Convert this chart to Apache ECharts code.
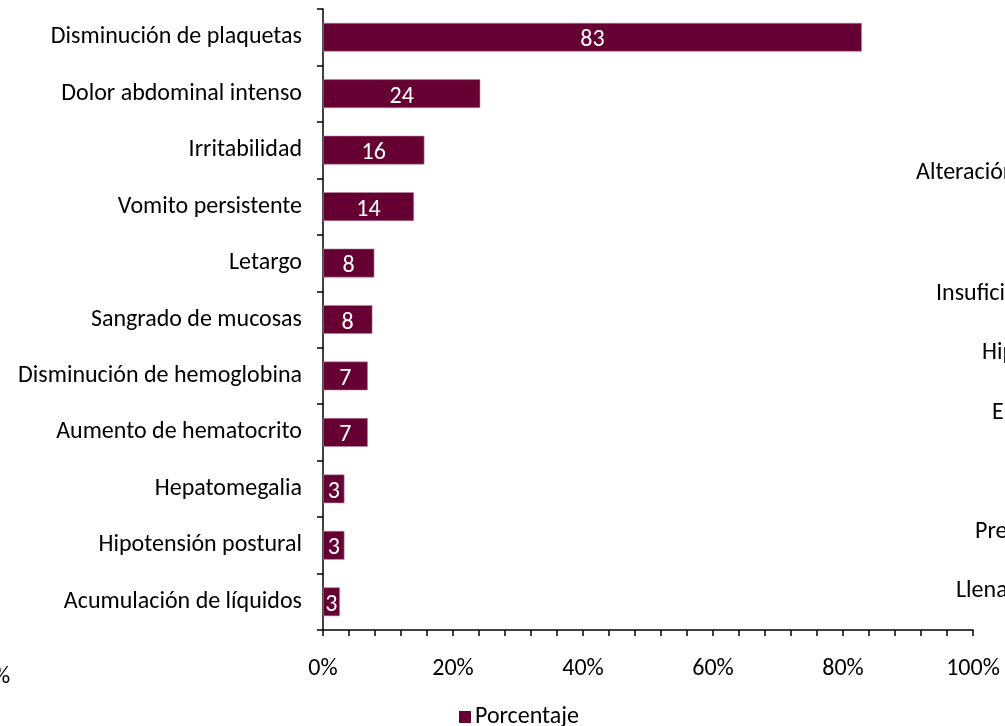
<!DOCTYPE html>
<html>
<head>
<meta charset="utf-8">
<script src="https://cdn.jsdelivr.net/npm/echarts@6/dist/echarts.min.js"></script>
<style>
  html, body { margin: 0; padding: 0; background: #fff; }
  #chart { width: 1005px; height: 726px; }
</style>
</head>
<body>
<div id="chart"></div>
<script>
// categorias de arriba hacia abajo
const categories = [
  'Disminución de plaquetas',
  'Dolor abdominal intenso',
  'Irritabilidad',
  'Vomito persistente',
  'Letargo',
  'Sangrado de mucosas',
  'Disminución de hemoglobina',
  'Aumento de hematocrito',
  'Hepatomegalia',
  'Hipotensión postural',
  'Acumulación de líquidos'
];
const porcentaje = [82.9, 24.2, 15.6, 14.0, 7.9, 7.6, 6.9, 6.9, 3.3, 3.3, 2.6];
const xTicks = [0, 20, 40, 60, 80, 100];

// textos recortados del grafico vecino
const sideTexts = [
  { text: 'Alteración', x: 916, y: 175 },
  { text: 'Insufici', x: 936, y: 296 },
  { text: 'Hip', x: 982, y: 355 },
  { text: 'E', x: 992, y: 415 },
  { text: 'Pre', x: 975, y: 534 },
  { text: 'Llena', x: 956, y: 593 },
  { text: '%', x: -7, y: 679 }
];

const font = 'Carlito, Lato, "Noto Sans", sans-serif';
const fs = 24;
const barColor = '#660033';

const chartDom = document.getElementById('chart');
const myChart = echarts.init(chartDom);
let option;

option = {
  animation: false,
  textStyle: { fontFamily: font },
  grid: { left: 323, right: 32, top: 9, bottom: 96 },
  legend: {
    data: ['Porcentaje'],
    left: 459,
    top: 705,
    padding: 0,
    itemWidth: 12,
    itemHeight: 12,
    itemGap: 4,
    icon: 'rect',
    itemStyle: { borderWidth: 0 },
    textStyle: { fontSize: fs, color: '#000', fontFamily: font, padding: [0, 0, 0, -1] }
  },
  xAxis: {
    type: 'value',
    min: 0,
    max: 100,
    interval: 20,
    axisLine: { show: true, lineStyle: { color: '#000', width: 1.5 } },
    axisTick: { show: true, inside: false, length: 6, lineStyle: { color: '#000', width: 1.5 } },
    minorTick: { show: true, splitNumber: 5, length: 6, lineStyle: { color: '#000', width: 1.5 } },
    splitLine: { show: false },
    axisLabel: {
      margin: 27,
      fontSize: fs,
      color: '#000',
      fontFamily: font,
      formatter: v => xTicks.includes(v) ? v + '%' : ''
    }
  },
  yAxis: {
    type: 'category',
    inverse: true,
    data: categories,
    axisLine: { show: true, lineStyle: { color: '#000', width: 1.5 } },
    axisTick: { show: true, length: 6, lineStyle: { color: '#000', width: 1.5 } },
    axisLabel: { margin: 21, fontSize: fs, color: '#000', fontFamily: font, padding: [5, 0, 0, 0] }
  },
  series: [
    {
      name: 'Porcentaje',
      type: 'bar',
      barWidth: '51%',
      data: porcentaje,
      itemStyle: { color: barColor, borderColor: '#b98aa2', borderWidth: 0.6 },
      label: {
        show: true,
        position: 'inside',
        offset: [0, 3],
        color: '#fff',
        fontSize: fs,
        fontFamily: font,
        formatter: p => Math.round(p.value)
      }
    }
  ],
  graphic: sideTexts.map(t => ({
    type: 'text',
    left: t.x,
    top: t.y - 14,
    style: { text: t.text, fontSize: fs, fill: '#000', fontFamily: font }
  }))
};

option && myChart.setOption(option);
</script>
</body>
</html>
